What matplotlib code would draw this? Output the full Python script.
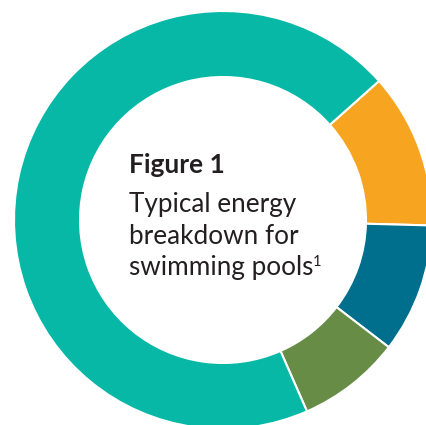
import matplotlib
matplotlib.use('Agg')
import matplotlib.pyplot as plt

# Segment shares, clockwise from the top-right boundary
labels = ['Segment A', 'Segment B', 'Segment C', 'Segment D']
shares = [12, 10, 8, 70]
colors = ['#F7A520', '#006F8E', '#668C46', '#06B8A5']

title = 'Figure 1'
body_lines = ['Typical energy', 'breakdown for', 'swimming pools']
footnote = '1'

W, H = 427, 425
fig = plt.figure(figsize=(W / 100, H / 100), dpi=100)
ax = fig.add_axes([0, 0, 1, 1])

ax.pie(shares, colors=colors, startangle=41.7, counterclock=False,
       center=(223, H - 220), radius=209,
       wedgeprops=dict(width=66, edgecolor='white', linewidth=1.5))
ax.set_xlim(0, W)
ax.set_ylim(0, H)
ax.set_aspect('equal')
ax.axis('off')

text_color = '#231F20'
ax.text(129, H - 173, title, fontsize=19, fontweight='bold', family='Lato',
        color=text_color, ha='left', va='baseline')
last = None
for i, line in enumerate(body_lines):
    last = ax.text(129, H - (212 + 31.5 * i), line, fontsize=18.8, family='Lato',
                   color=text_color, ha='left', va='baseline')

# superscript footnote marker right after the last line
fig.canvas.draw()
bb = last.get_window_extent()
x_end = ax.transData.inverted().transform((bb.x1, bb.y1))[0]
ax.text(x_end - 0.5, H - 266.5, footnote, fontsize=10.5, family='Lato',
        color=text_color, ha='left', va='baseline')

fig.savefig('out.png', dpi=100)
